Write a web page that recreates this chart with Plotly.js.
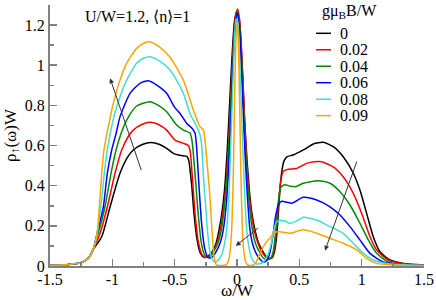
<!DOCTYPE html>
<html>
<head>
<meta charset="utf-8">
<script src="https://cdn.plot.ly/plotly-3.0.1.min.js"></script>
<style>html,body{margin:0;padding:0;background:#fff;}#chart{width:436px;height:300px;}</style>
</head>
<body>
<div id="chart"></div>
<script>
// Zeeman field values (legend labels)
const fieldLabels = ['0', '0.02', '0.04', '0.06', '0.08', '0.09'];

// omega/W and rho_up(omega)W for each field
const omega0 = [-1.5,-1.35,-1.25,-1.19,-1.15,-1.085,-1.018,-0.938,-0.88,-0.832,-0.76,-0.69,-0.62,-0.564,-0.51,-0.45,-0.40,-0.385,-0.375,-0.363,-0.345,-0.32,-0.295,-0.265,-0.235,-0.20,-0.17,-0.144,-0.12,-0.10,-0.08,-0.06,-0.04,-0.02,0,0.02,0.04,0.06,0.08,0.10,0.12,0.144,0.17,0.20,0.23,0.255,0.28,0.30,0.32,0.34,0.355,0.375,0.40,0.45,0.532,0.612,0.692,0.772,0.852,0.933,0.986,1.04,1.093,1.147,1.227,1.334,1.5];
const rho0 = [0.003,0.008,0.016,0.04,0.085,0.146,0.295,0.463,0.54,0.578,0.605,0.615,0.605,0.586,0.561,0.55,0.545,0.52,0.47,0.40,0.26,0.13,0.065,0.043,0.048,0.07,0.11,0.18,0.27,0.38,0.56,0.80,1.04,1.22,1.27,1.22,1.02,0.74,0.53,0.37,0.26,0.18,0.12,0.08,0.05,0.038,0.04,0.07,0.16,0.34,0.45,0.52,0.544,0.553,0.578,0.608,0.616,0.594,0.544,0.462,0.378,0.262,0.146,0.071,0.03,0.013,0.005];

const omega1 = [-1.5,-1.35,-1.25,-1.19,-1.15,-1.10,-1.04,-0.978,-0.925,-0.872,-0.832,-0.76,-0.70,-0.63,-0.564,-0.497,-0.43,-0.39,-0.375,-0.365,-0.353,-0.335,-0.31,-0.28,-0.25,-0.22,-0.19,-0.16,-0.134,-0.11,-0.09,-0.07,-0.05,-0.03,-0.01,0.005,0.02,0.04,0.06,0.08,0.10,0.12,0.137,0.17,0.20,0.23,0.25,0.275,0.295,0.315,0.335,0.35,0.37,0.40,0.479,0.559,0.62,0.679,0.772,0.852,0.933,1.0,1.067,1.12,1.213,1.32,1.5];
const rho1 = [0.003,0.008,0.017,0.04,0.088,0.16,0.295,0.463,0.578,0.645,0.677,0.706,0.716,0.705,0.677,0.627,0.611,0.60,0.57,0.50,0.40,0.25,0.12,0.055,0.042,0.05,0.075,0.115,0.18,0.28,0.39,0.58,0.84,1.09,1.25,1.28,1.23,1.03,0.74,0.50,0.34,0.24,0.18,0.11,0.07,0.045,0.038,0.04,0.07,0.17,0.33,0.42,0.47,0.48,0.486,0.511,0.519,0.519,0.494,0.445,0.362,0.262,0.146,0.08,0.03,0.012,0.004];

const omega2 = [-1.5,-1.35,-1.25,-1.19,-1.15,-1.11,-1.059,-1.01,-0.97,-0.93,-0.885,-0.805,-0.70,-0.63,-0.564,-0.484,-0.43,-0.377,-0.36,-0.345,-0.329,-0.31,-0.285,-0.26,-0.235,-0.21,-0.18,-0.15,-0.125,-0.10,-0.08,-0.06,-0.04,-0.02,0,0.02,0.04,0.06,0.08,0.10,0.123,0.15,0.18,0.21,0.245,0.27,0.29,0.31,0.33,0.35,0.38,0.43,0.47,0.532,0.652,0.746,0.826,0.906,0.986,1.053,1.12,1.213,1.32,1.5];
const rho2 = [0.003,0.008,0.017,0.04,0.09,0.17,0.295,0.463,0.578,0.66,0.727,0.797,0.818,0.80,0.768,0.702,0.677,0.662,0.62,0.52,0.40,0.25,0.11,0.055,0.042,0.05,0.08,0.12,0.18,0.30,0.44,0.66,0.93,1.17,1.27,1.20,0.98,0.68,0.45,0.30,0.18,0.11,0.07,0.04,0.032,0.038,0.07,0.17,0.31,0.39,0.405,0.397,0.395,0.412,0.425,0.412,0.37,0.304,0.213,0.13,0.063,0.02,0.008,0.003];

const omega3 = [-1.5,-1.35,-1.25,-1.19,-1.15,-1.12,-1.072,-1.04,-1.005,-0.97,-0.938,-0.858,-0.778,-0.71,-0.64,-0.564,-0.50,-0.457,-0.403,-0.363,-0.337,-0.325,-0.305,-0.285,-0.26,-0.235,-0.215,-0.19,-0.16,-0.13,-0.11,-0.09,-0.07,-0.05,-0.03,-0.01,0.003,0.02,0.04,0.06,0.08,0.104,0.13,0.16,0.19,0.211,0.24,0.265,0.29,0.31,0.335,0.36,0.40,0.44,0.532,0.639,0.746,0.826,0.906,0.986,1.067,1.173,1.3,1.5];
const rho3 = [0.003,0.008,0.018,0.042,0.09,0.17,0.295,0.463,0.578,0.66,0.744,0.86,0.91,0.923,0.90,0.86,0.79,0.76,0.71,0.687,0.662,0.60,0.40,0.22,0.09,0.045,0.04,0.05,0.08,0.125,0.18,0.28,0.45,0.72,1.02,1.22,1.26,1.18,0.92,0.62,0.38,0.18,0.10,0.055,0.03,0.02,0.028,0.07,0.16,0.25,0.31,0.322,0.318,0.313,0.342,0.329,0.295,0.254,0.196,0.13,0.063,0.02,0.007,0.003];

const omega4 = [-1.5,-1.35,-1.25,-1.19,-1.15,-1.125,-1.093,-1.064,-1.04,-1.0,-0.965,-0.885,-0.805,-0.75,-0.698,-0.62,-0.537,-0.48,-0.43,-0.377,-0.323,-0.30,-0.283,-0.27,-0.257,-0.24,-0.22,-0.20,-0.176,-0.15,-0.12,-0.10,-0.083,-0.065,-0.045,-0.025,-0.008,0.005,0.02,0.04,0.06,0.078,0.10,0.12,0.15,0.171,0.20,0.23,0.25,0.278,0.30,0.318,0.345,0.38,0.425,0.48,0.532,0.639,0.746,0.852,0.933,1.013,1.093,1.2,1.5];
const rho4 = [0.003,0.008,0.018,0.042,0.09,0.15,0.295,0.463,0.578,0.71,0.793,0.926,1.01,1.035,1.042,1.02,0.976,0.92,0.86,0.76,0.694,0.66,0.60,0.45,0.345,0.2,0.08,0.035,0.02,0.03,0.06,0.11,0.18,0.35,0.70,1.05,1.23,1.22,1.05,0.70,0.38,0.18,0.08,0.035,0.012,0.01,0.015,0.035,0.06,0.12,0.19,0.22,0.228,0.225,0.213,0.225,0.243,0.229,0.196,0.163,0.113,0.063,0.03,0.013,0.003];

const omega5 = [-1.5,-1.35,-1.25,-1.19,-1.15,-1.125,-1.104,-1.085,-1.067,-1.03,-0.997,-0.938,-0.885,-0.805,-0.74,-0.698,-0.62,-0.537,-0.43,-0.35,-0.297,-0.27,-0.245,-0.23,-0.217,-0.20,-0.185,-0.17,-0.15,-0.12,-0.09,-0.075,-0.06,-0.043,-0.03,-0.02,-0.01,0,0.01,0.02,0.03,0.043,0.055,0.07,0.085,0.11,0.135,0.155,0.175,0.198,0.23,0.265,0.30,0.33,0.37,0.425,0.532,0.639,0.746,0.852,0.96,1.04,1.12,1.25,1.5];
const rho5 = [0.003,0.008,0.017,0.04,0.09,0.146,0.295,0.463,0.578,0.70,0.797,0.926,1.01,1.084,1.112,1.117,1.09,1.04,0.926,0.777,0.694,0.677,0.55,0.44,0.345,0.17,0.05,0.01,0.003,0.003,0.005,0.015,0.05,0.18,0.45,0.80,1.10,1.22,1.12,0.85,0.50,0.18,0.07,0.02,0.005,0.003,0.005,0.02,0.05,0.08,0.115,0.14,0.165,0.172,0.168,0.163,0.18,0.163,0.138,0.113,0.08,0.038,0.013,0.005,0.002];

// axis tick labels
const xTickVals = [-1.5, -1, -0.5, 0, 0.5, 1, 1.5];
const xTickText = ['-1.5', '-1', '-0.5', '0', '0.5', '1', '1.5'];
const yTickVals = [0, 0.2, 0.4, 0.6, 0.8, 1, 1.2];
const yTickText = ['0', '0.2', '0.4', '0.6', '0.8', '1', '1.2'];

// arrows: [tail x, tail y] -> [head x, head y] in data units
const arrowTails = [[-0.764, 0.47], [0.18, 0.195], [0.965, 0.528]];
const arrowHeads = [[-1.018, 0.935], [-0.01, 0.1], [0.706, 0.076]];

const colors = ['#000000', '#ff0000', '#008b00', '#0000ff', '#40e0d0', '#ffa500'];
const omegas = [omega0, omega1, omega2, omega3, omega4, omega5];
const rhos = [rho0, rho1, rho2, rho3, rho4, rho5];

const FONT = 'Liberation Serif';

const traces = fieldLabels.map((lab, i) => ({
  type: 'scatter', mode: 'lines', name: lab,
  x: omegas[i], y: rhos[i],
  line: {color: colors[i], width: 1.5, shape: 'spline', smoothing: 0.6},
  showlegend: false, hoverinfo: 'skip'
}));

const annotations = [];
const shapes = [];
arrowTails.forEach((t, i) => {
  annotations.push({
    x: arrowHeads[i][0], y: arrowHeads[i][1], xref: 'x', yref: 'y',
    ax: t[0], ay: t[1], axref: 'x', ayref: 'y',
    showarrow: true, arrowhead: 2, arrowsize: 1, arrowwidth: 1, arrowcolor: '#333333', text: ''
  });
});
annotations.push({
  x: -0.80, y: 1.245, xref: 'x', yref: 'y', showarrow: false,
  text: 'U/W=1.2, \u27E8n\u27E9=1', font: {family: FONT, size: 16, color: '#000'}
});
// compact legend block, as in the original figure
const legX0 = 0.634, legX1 = 0.754, legTextX = 0.81, legTop = 1.159, legStep = 0.082;
annotations.push({
  x: 0.662, y: 1.268, xref: 'x', yref: 'y', xanchor: 'left', yanchor: 'middle', showarrow: false,
  text: 'gμ<sub>B</sub>B/W', font: {family: FONT, size: 16, color: '#000'}
});
fieldLabels.forEach((lab, i) => {
  const yy = legTop - legStep * i;
  shapes.push({type: 'line', xref: 'x', yref: 'y', x0: legX0, x1: legX1, y0: yy, y1: yy,
    line: {color: colors[i], width: 1.5}});
  annotations.push({x: legTextX, y: yy, xref: 'x', yref: 'y', xanchor: 'left', yanchor: 'middle',
    showarrow: false, text: lab, font: {family: FONT, size: 16, color: '#000'}});
});

const axisCommon = {
  showgrid: false, zeroline: false, showline: true, linecolor: '#808080', linewidth: 2,
  ticks: 'inside', ticklen: 7, tickwidth: 1.5, tickcolor: '#808080',
  tickfont: {family: FONT, size: 16, color: '#000'}, mirror: false, automargin: false
};

const layout = {
  width: 436, height: 300,
  margin: {l: 50, r: 12, t: 5, b: 34},
  font: {family: FONT, size: 16, color: '#000'},
  paper_bgcolor: '#fff', plot_bgcolor: '#fff',
  xaxis: Object.assign({}, axisCommon, {
    range: [-1.5, 1.5], tickmode: 'array', tickvals: xTickVals, ticktext: xTickText,
    ticklabelstandoff: -2,
    minor: {ticks: 'inside', ticklen: 4, dtick: 0.25, tick0: 0, tickcolor: '#808080', tickwidth: 1.5, showgrid: false},
    title: {text: 'ω/W', font: {family: FONT, size: 17, color: '#000'}, standoff: 0}
  }),
  yaxis: Object.assign({}, axisCommon, {
    range: [0, 1.3], tickmode: 'array', tickvals: yTickVals, ticktext: yTickText,
    minor: {ticks: 'inside', ticklen: 4, dtick: 0.1, tick0: 0, tickcolor: '#808080', tickwidth: 1.5, showgrid: false},
    title: {text: 'ρ<sub>↑</sub>(ω)W', font: {family: FONT, size: 17, color: '#000'}, standoff: 4}
  }),
  annotations: annotations,
  shapes: shapes,
  showlegend: false
};

Plotly.newPlot('chart', traces, layout, {displayModeBar: false, staticPlot: true});
</script>
</body>
</html>
